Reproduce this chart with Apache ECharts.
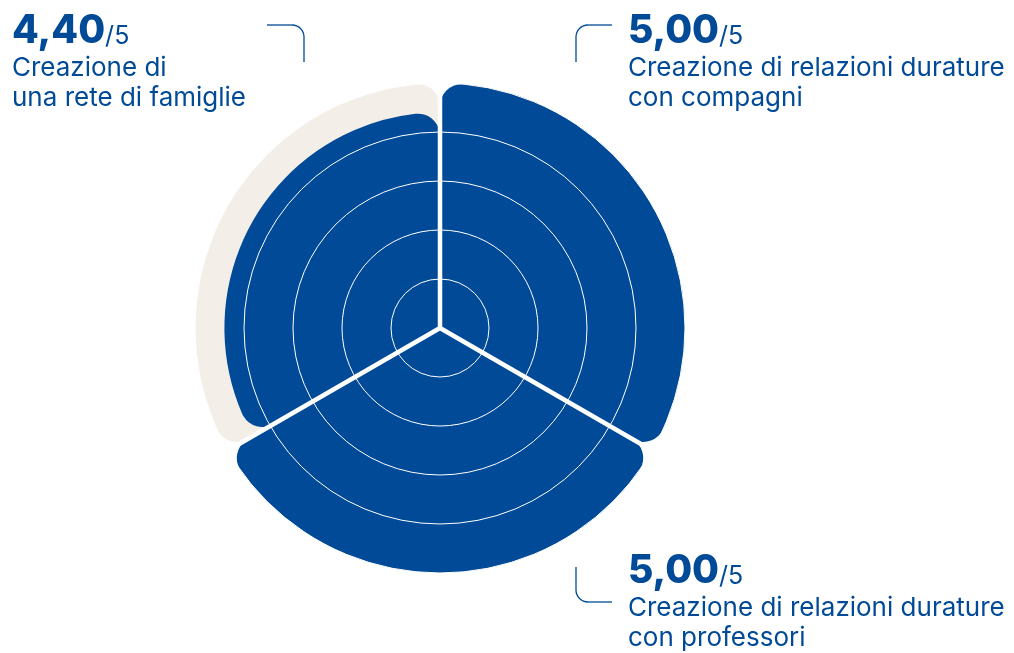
<!DOCTYPE html>
<html>
<head>
<meta charset="utf-8">
<script src="https://cdn.jsdelivr.net/npm/echarts@6/dist/echarts.min.js"></script>
<style>
  html, body { margin: 0; padding: 0; background: #ffffff; }
  #chart { width: 1014px; height: 653px; }
</style>
</head>
<body>
<div id="chart"></div>
<script>
// Survey scores (out of 5), one sector per dimension, clockwise from 12 o'clock
var categories = [
  'Creazione di relazioni durature\ncon compagni',
  'Creazione di relazioni durature\ncon professori',
  'Creazione di\nuna rete di famiglie'
];
var scores = [5.00, 5.00, 4.40];
var scaleMax = 5;
var maxValues = [5, 5, 5];

var BLUE = '#004a97';
var BEIGE = '#f3efe8';
var FONT = 'Inter, "Noto Sans", sans-serif';

function fmt(v) { return v.toFixed(2).replace('.', ','); }

var chart = echarts.init(document.getElementById('chart'), null, { renderer: 'canvas' });

// Callout blocks: score + label + rounded leader bracket for each sector
var P = Math.PI;
var callouts = [
  { idx: 2, x: 12, y: 11,
    lines: [[[267, 25], [292, 25]], [[304, 37], [304, 62]]],
    arc: { cx: 292, cy: 37, r: 12, startAngle: -P / 2, endAngle: 0 } },
  { idx: 0, x: 628, y: 11,
    lines: [[[612, 25], [588, 25]], [[576, 37], [576, 62]]],
    arc: { cx: 588, cy: 37, r: 12, startAngle: P, endAngle: 1.5 * P } },
  { idx: 1, x: 628, y: 551,
    lines: [[[576, 567], [576, 590]], [[588, 602], [612, 602]]],
    arc: { cx: 588, cy: 590, r: 12, startAngle: P / 2, endAngle: P } }
];

var lineStyle = { fill: null, stroke: BLUE, lineWidth: 1.3 };
var graphics = [];
callouts.forEach(function (c) {
  graphics.push({
    type: 'text', x: c.x, y: c.y,
    style: {
      text: '{n|' + fmt(scores[c.idx]) + '}{d|/' + scaleMax + '}',
      rich: {
        n: { fontFamily: FONT, fontSize: 39, fontWeight: 800, fill: BLUE, verticalAlign: 'bottom', lineHeight: 40 },
        d: { fontFamily: FONT, fontSize: 25, fontWeight: 400, fill: BLUE, verticalAlign: 'bottom', lineHeight: 40, padding: [0, 0, 2, 0] }
      }
    }
  });
  graphics.push({
    type: 'text', x: c.x, y: c.y + 42,
    style: {
      text: categories[c.idx],
      fontFamily: FONT, fontSize: 26, fill: BLUE, lineHeight: 30
    }
  });
  c.lines.forEach(function (pts) {
    graphics.push({ type: 'polyline', shape: { points: pts }, style: lineStyle });
  });
  graphics.push({
    type: 'arc',
    shape: { cx: c.arc.cx, cy: c.arc.cy, r: c.arc.r, startAngle: c.arc.startAngle, endAngle: c.arc.endAngle, clockwise: true },
    style: lineStyle
  });
});

chart.setOption({
  backgroundColor: '#ffffff',
  polar: { center: [440, 328], radius: [0, 245] },
  angleAxis: {
    type: 'category',
    data: categories,
    startAngle: 90,
    clockwise: true,
    z: 10,
    axisLine: { show: false },
    axisTick: { show: false },
    axisLabel: { show: false },
    // white radial separators between sectors
    splitLine: { show: true, lineStyle: { color: '#ffffff', width: 4.5 } }
  },
  radiusAxis: {
    min: 0, max: scaleMax, interval: 1,
    z: 10,
    axisLine: { show: false },
    axisTick: { show: false },
    axisLabel: { show: false },
    splitLine: { show: true, lineStyle: { color: '#ffffff', width: 1 } }
  },
  series: [
    {
      type: 'bar',
      coordinateSystem: 'polar',
      data: maxValues,
      barCategoryGap: '0%',
      silent: true,
      itemStyle: { color: BEIGE, borderRadius: [6, 22] },
      z: 1
    },
    {
      type: 'bar',
      coordinateSystem: 'polar',
      data: scores,
      barGap: '-100%',
      barCategoryGap: '0%',
      itemStyle: { color: BLUE, borderRadius: [6, 22] },
      z: 2
    }
  ],
  graphic: graphics
});
</script>
</body>
</html>
